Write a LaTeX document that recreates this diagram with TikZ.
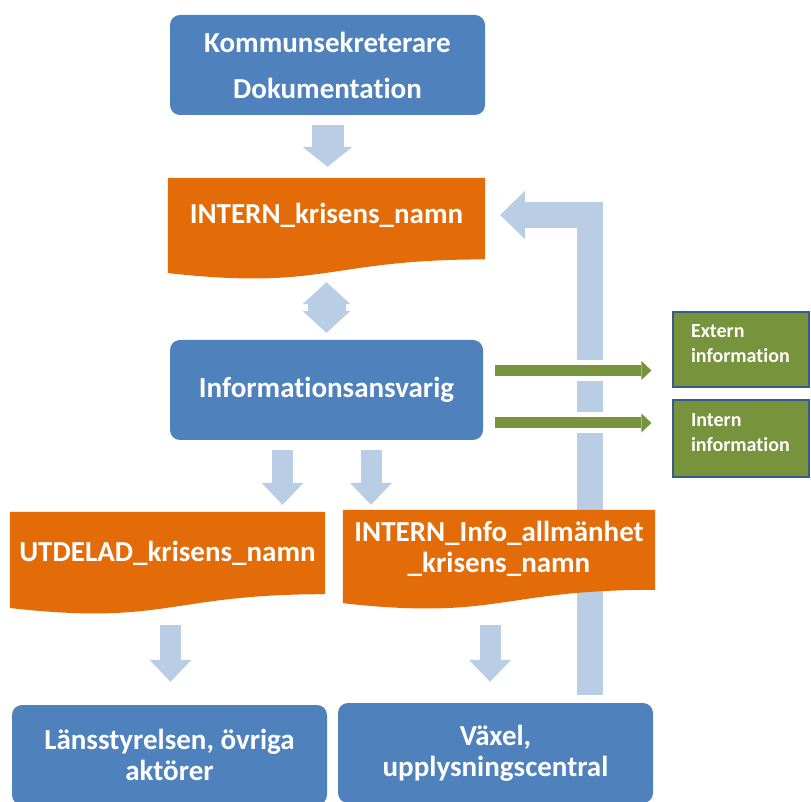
\documentclass[tikz,border=0pt]{standalone}
\usepackage{fontspec}
\setmainfont{Carlito}[Ligatures=NoCommon]
\usetikzlibrary{arrows.meta,calc,backgrounds}
\definecolor{boxblue}{RGB}{79,129,189}
\definecolor{docorange}{RGB}{227,108,9}
\definecolor{arrowblue}{RGB}{185,205,229}
\definecolor{infogreen}{RGB}{119,147,60}
\definecolor{infoborder}{RGB}{56,93,138}

\newcommand{\docfill}[2]{%
  \fill[docorange] (#1.north west) -- (#1.north east)
    -- ($(#1.north east)+(0,-0.80*#2)$)
    .. controls ($(#1.north)+(0,-0.80*#2)$) and ($(#1.north)+(0,-1.107*#2)$)
    .. ($(#1.north west)+(0,-0.934*#2)$) -- cycle;}

\begin{document}
\begin{tikzpicture}[x=1pt,y=1pt]
    \tikzstyle{bluebox}=[rectangle,rounded corners=10pt,fill=boxblue,text=white,font=\bfseries\fontsize{29}{31}\selectfont,align=center,minimum width=315pt,minimum height=100pt,inner sep=0pt]
    \tikzstyle{docbox}=[rectangle,text=white,font=\bfseries\fontsize{29}{31}\selectfont,align=center,inner sep=0pt]
    \tikzstyle{greenbox}=[rectangle,fill=infogreen,draw=infoborder,line width=1.2pt,text=white,font=\bfseries\fontsize{20}{25}\selectfont,align=left,text width=100pt,text depth=36pt,inner xsep=18pt,inner ysep=0pt,minimum height=75pt]
    \tikzstyle{flowarrow}=[draw=arrowblue,line width=21pt,-{Triangle[width=42pt,length=22pt,line width=0pt]}]
    \tikzstyle{greenarrow}=[draw=infogreen,line width=11pt,-{Triangle[width=19pt,length=10pt,line width=0pt]},preaction={draw=white,line width=21pt,arrows=-}]
    \useasboundingbox (0,0) rectangle (811,801);
    \node[bluebox] (komm) at (327.5,736) {Kommunsekreterare\\[15pt]Dokumentation};
    \node[docbox,minimum width=317pt,minimum height=74pt] (intern) at (326.5,586) {INTERN\_krisens\_namn};
    \node[bluebox,minimum width=313pt] (info) at (326.5,411) {Informationsansvarig};
    \node[docbox,minimum width=315pt,minimum height=82pt] (utdelad) at (167.5,248) {UTDELAD\_krisens\_namn};
    \node[docbox,minimum width=312pt,minimum height=78pt] (allman) at (499,252) {INTERN\_Info\_allmänhet\\\_krisens\_namn};
    \node[bluebox] (lans) at (169.5,46) {Länsstyrelsen, övriga\\aktörer};
    \node[bluebox] (vaxel) at (495.5,48) {Växel,\\upplysningscentral};
    \node[greenbox] (ext) at (741,451.5) {Extern\\information};
    \node[greenbox,minimum height=77pt] (intinfo) at (741,362.5) {Intern\\information};
    \draw[flowarrow,line width=32pt,-{Triangle[width=50pt,length=20pt,line width=0pt]},shorten <=10pt,shorten >=11pt] (komm.south) -- (komm.south |- intern.north);
    \draw[flowarrow,line width=38pt,{Triangle[width=48pt,length=22pt,line width=0pt]}-{Triangle[width=48pt,length=22pt,line width=0pt]},shorten <=30pt,shorten >=7pt] (intern.south) -- (info.north);
    \draw[flowarrow,shorten <=10pt,shorten >=7pt] ([xshift=-44pt]info.south) -- ([xshift=-44pt]info.south |- utdelad.north);
    \draw[flowarrow,shorten <=10pt,shorten >=5pt] ([xshift=44.5pt]info.south) -- ([xshift=44.5pt]info.south |- allman.north);
    \draw[flowarrow,shorten <=31pt,shorten >=23pt] ([xshift=3pt]utdelad.south) -- ([xshift=3pt]utdelad.south |- lans.north);
    \draw[flowarrow,shorten <=37pt,shorten >=21pt] ([xshift=-9pt]allman.south) -- ([xshift=-9pt]allman.south |- vaxel.north);
    \draw[greenarrow,shorten <=12pt,shorten >=21pt] ([yshift=19.5pt]info.east) -- ([yshift=19.5pt]info.east -| ext.west);
    \draw[greenarrow,shorten <=12pt,shorten >=21pt] ([yshift=-33pt]info.east) -- ([yshift=-33pt]info.east -| intinfo.west);
    \begin{scope}[on background layer]
        \draw[draw=arrowblue,line width=26pt,-{Triangle[width=49pt,length=25pt,line width=0pt]},shorten >=15pt] ([xshift=94.5pt,yshift=8pt]vaxel.north) |- (intern.east);
        \docfill{intern}{102}
        \docfill{utdelad}{103}
        \docfill{allman}{100}
    \end{scope}
\end{tikzpicture}
\end{document}
